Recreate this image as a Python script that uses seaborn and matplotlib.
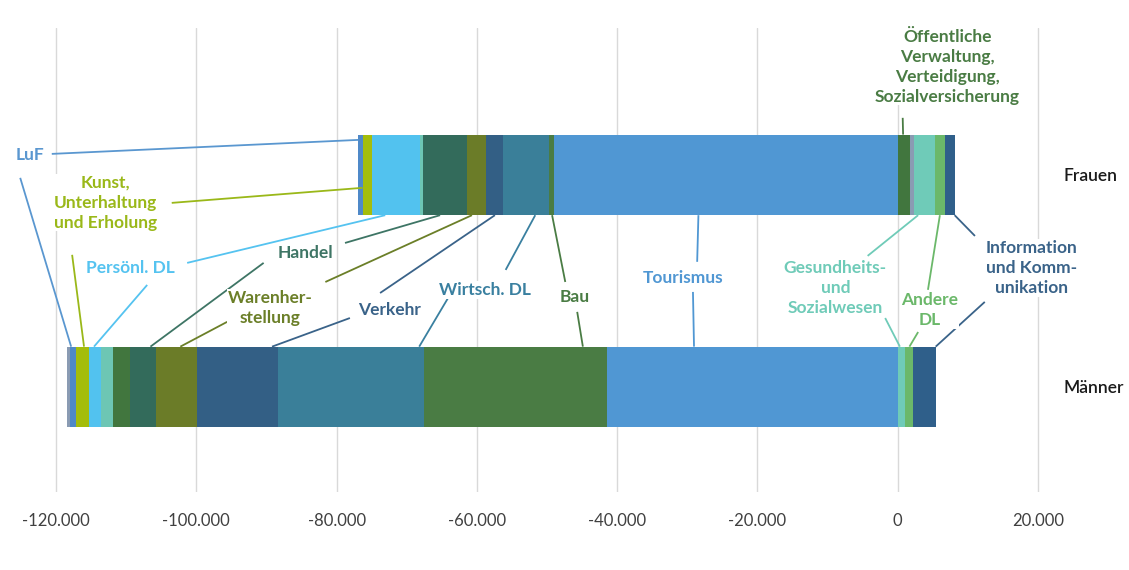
import numpy as np
import pandas as pd
import matplotlib
matplotlib.use("Agg")
import matplotlib.pyplot as plt
import seaborn as sns

# Rows of the chart
geschlecht = ["Frauen", "Männer"]

# Sectors in stacking order (negatives stack leftwards, positives rightwards)
sektoren = [
    "Tourismus", "Bau", "Wirtsch. DL", "Verkehr", "Warenherstellung", "Handel",
    "Öffentliche Verwaltung", "Erziehung", "Persönl. DL", "Kunst", "LuF",
    "Sonstige", "Gesundheits- und Sozialwesen", "Andere DL",
    "Information und Kommunikation",
]
frauen = [-49000, -700, -6600, -2400, -2700, -6300, 1800, -400, -6800, -1400,
          -600, 500, 3000, 1400, 1400]
maenner = [-41500, -26100, -20800, -11500, -5800, -3800, -2400, -1700, -1700,
           -1900, -800, -500, 1000, 1100, 3300]
farben = ["#5097d3", "#4a7c44", "#3a7f99", "#335f85", "#6b7c28", "#336b5b",
          "#41763e", "#6dc6b4", "#52c2ef", "#a4bd0b", "#4f89c8", "#8a9bb3",
          "#6fcbb8", "#6bb86a", "#2f5f8a"]

x_ticks = [-120000, -100000, -80000, -60000, -40000, -20000, 0, 20000]

sns.set_theme(style="white")
plt.rcParams["font.family"] = ["Lato", "DejaVu Sans"]

fig = plt.figure(figsize=(11.29, 5.70), dpi=100)
ax = fig.add_axes([0.01231, 0.137, 0.9196, 0.814])

werte = np.array([frauen, maenner], dtype=float)  # rows x sectors
neg = np.cumsum(np.minimum(werte, 0), axis=1)
pos = np.cumsum(np.maximum(werte, 0), axis=1)
BAR_W = 0.38

# Draw cumulative bars from the outermost sector inwards so inner ones sit on top
for i in reversed(range(len(sektoren))):
    for cum, mask in ((neg, werte[:, i] < 0), (pos, werte[:, i] > 0)):
        if not mask.any():
            continue
        df = pd.DataFrame({"g": geschlecht, "v": np.where(mask, cum[:, i], np.nan)})
        sns.barplot(data=df, x="v", y="g", orient="h", color=farben[i],
                    saturation=1, width=BAR_W, errorbar=None, linewidth=0,
                    ax=ax, zorder=2)


def segment(row, name):
    i = sektoren.index(name)
    v = werte[row, i]
    if v < 0:
        end = neg[row, i]
        return end, end - v
    end = pos[row, i]
    return end - v, end


# Segment labels with leader lines: text position, colour,
# and per line: (start x, start y, row, sector, fraction along segment, end y)
top_f, bot_f, top_m = -BAR_W / 2, BAR_W / 2, 1 - BAR_W / 2
labels = [
    ("LuF", -123700, -0.094, "#5a97d0", "LuF",
     [(-120600, -0.099, 0, 0.0, -0.165), (-125100, 0.014, 1, 0.2, top_m)]),
    ("Kunst,\nUnterhaltung\nund Erholung", -113000, 0.132, "#9ab819", "Kunst",
     [(-103500, 0.132, 0, 0.0, 0.061), (-117700, 0.377, 1, 0.63, top_m)]),
    ("Persönl. DL", -109400, 0.439, "#55c3f0", "Persönl. DL",
     [(-101300, 0.415, 0, 0.27, bot_f), (-107000, 0.519, 1, 0.42, top_m)]),
    ("Handel", -84500, 0.368, "#3e7565", "Handel",
     [(-78800, 0.321, 0, 0.39, bot_f), (-90400, 0.415, 1, 0.78, top_m)]),
    ("Warenher-\nstellung", -89500, 0.627, "#6b7f28", "Warenherstellung",
     [(-81600, 0.505, 0, 0.26, bot_f), (-95600, 0.693, 1, 0.59, top_m)]),
    ("Verkehr", -72400, 0.637, "#3a6389", "Verkehr",
     [(-73800, 0.557, 0, 0.53, bot_f), (-78100, 0.675, 1, 0.93, top_m)]),
    ("Wirtsch. DL", -58800, 0.542, "#3a80a0", "Wirtsch. DL",
     [(-55900, 0.448, 0, 0.7, bot_f), (-64100, 0.580, 1, 0.97, top_m)]),
    ("Bau", -46000, 0.575, "#4a7c44", "Bau",
     [(-47400, 0.505, 0, 0.6, bot_f), (-45700, 0.646, 1, 0.87, top_m)]),
    ("Tourismus", -30600, 0.486, "#5097d3", "Tourismus",
     [(-28600, 0.410, 0, 0.42, bot_f), (-29200, 0.552, 1, 0.3, top_m)]),
    ("Gesundheits-\nund\nSozialwesen", -8900, 0.533, "#6fcbb8",
     "Gesundheits- und Sozialwesen",
     [(-4300, 0.382, 0, 0.2, bot_f), (-1800, 0.675, 1, 0.3, top_m)]),
    ("Andere\nDL", 4600, 0.637, "#6bb86a", "Andere DL",
     [(4300, 0.542, 0, 0.5, bot_f), (2900, 0.741, 1, 0.6, top_m)]),
    ("Information\nund Komm-\nunikation", 19100, 0.439, "#3a6389",
     "Information und Kommunikation",
     [(11000, 0.288, 0, 1.0, bot_f), (12400, 0.599, 1, 1.0, top_m)]),
    ("Öffentliche\nVerwaltung,\nVerteidigung,\nSozialversicherung", 7100, -0.509,
     "#4a7c44", "Öffentliche Verwaltung",
     [(700, -0.269, 0, 0.42, top_f)]),
]

for text, tx, ty, col, name, lines in labels:
    for sx, sy, row, frac, ey in lines:
        lo, hi = segment(row, name)
        ex = lo + frac * (hi - lo)
        ax.plot([sx, ex], [sy, ey], color=col, lw=1.3, zorder=3,
                solid_capstyle="butt", clip_on=False)
    ax.text(tx, ty, text, color=col, ha="center", va="center",
            multialignment="center", fontsize=12.5, fontweight="bold",
            linespacing=1.3, zorder=4, clip_on=False,
            bbox=dict(facecolor="white", edgecolor="none", pad=0.5))

ax.set_xlim(-126000, 22000)
ax.set_ylim(1.495, -0.693)
ax.set_xticks(x_ticks)
ax.set_xticklabels([f"{v:,}".replace(",", ".") for v in x_ticks])
ax.grid(axis="x", color="#d9d9d9", lw=1)
ax.grid(axis="y", visible=False)
ax.set_axisbelow(True)
for s in ax.spines.values():
    s.set_visible(False)
ax.yaxis.tick_right()
ax.tick_params(axis="x", length=0, pad=15, labelsize=12, labelcolor="#404040")
ax.tick_params(axis="y", length=0, pad=8, labelsize=12.5, labelcolor="#1a1a1a")
for lab in ax.get_yticklabels():
    lab.set_fontweight("semibold")
ax.set_xlabel("")
ax.set_ylabel("")

fig.savefig("out.png", dpi=100, facecolor="white")
